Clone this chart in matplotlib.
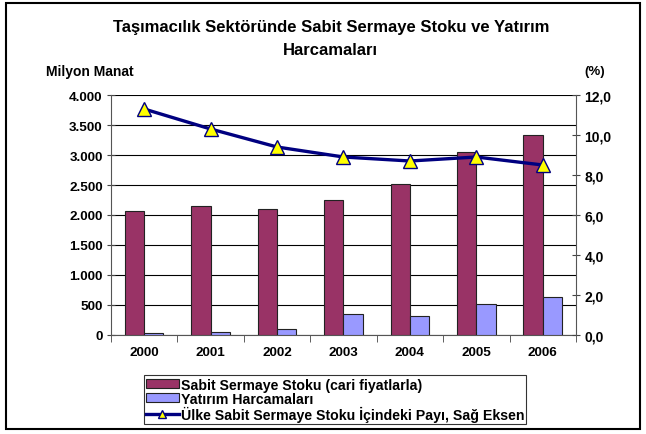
import matplotlib
matplotlib.use("Agg")
import matplotlib.pyplot as plt
import numpy as np
from matplotlib.ticker import FuncFormatter

plt.rcParams['font.family'] = ['Liberation Sans', 'DejaVu Sans']
plt.rcParams['font.weight'] = 'bold'

# data
years = ['2000', '2001', '2002', '2003', '2004', '2005', '2006']
stok = [2065, 2150, 2095, 2255, 2520, 3055, 3340]
yatirim = [35, 50, 95, 345, 315, 520, 625]
pay = [11.3, 10.3, 9.4, 8.9, 8.7, 8.9, 8.5]

fig = plt.figure(figsize=(6.46, 4.35), dpi=100)
ax = fig.add_axes([0.1718, 0.2276, 0.7198, 0.5517])

x = np.arange(len(years))
w = 0.29
ax.bar(x - w / 2, stok, w, color='#993366', edgecolor='#222222', linewidth=0.8,
       label='Sabit Sermaye Stoku (cari fiyatlarla)', zorder=3)
ax.bar(x + w / 2, yatirim, w, color='#9999FF', edgecolor='#222222', linewidth=0.8,
       label='Yatırım Harcamaları', zorder=3)

ax.set_xlim(-0.5, len(years) - 0.5)
ax.set_ylim(0, 4000)
ax.set_yticks(np.arange(0, 4001, 500))
ax.yaxis.set_major_formatter(FuncFormatter(lambda v, p: f'{int(v):,}'.replace(',', '.')))
ax.grid(axis='y', color='black', linewidth=0.8, zorder=0)
ax.set_xticks(x)
ax.set_xticklabels(years)
ax.set_xticks(np.arange(-0.5, len(years), 1), minor=True)
ax.tick_params(axis='x', which='major', length=0, pad=8, labelsize=9.7)
ax.tick_params(axis='x', which='minor', length=5, direction='out', color='#444444')
ax.tick_params(axis='y', length=6, direction='inout', labelsize=9.7, color='#444444', pad=3)
for s in ['top', 'right']:
    ax.spines[s].set_visible(False)
for s in ['left', 'bottom']:
    ax.spines[s].set_color('#555555')
for lab in ax.get_xticklabels() + ax.get_yticklabels():
    lab.set_fontweight('bold')

ax2 = ax.twinx()
ax2.plot(x, pay, color='#000080', linewidth=2.4, marker='^', markersize=10,
         markerfacecolor='#FFFF00', markeredgecolor='#000080', markeredgewidth=1,
         label='Ülke Sabit Sermaye Stoku İçindeki Payı, Sağ Eksen', zorder=5)
ax2.set_ylim(0, 12)
ax2.set_yticks(np.arange(0, 12.1, 2))
ax2.yaxis.set_major_formatter(FuncFormatter(lambda v, p: f'{v:.1f}'.replace('.', ',')))
ax2.tick_params(axis='y', length=6, direction='inout', labelsize=10, color='#444444', pad=3)
for s in ['top', 'left', 'bottom']:
    ax2.spines[s].set_visible(False)
ax2.spines['right'].set_color('#555555')
for lab in ax2.get_yticklabels():
    lab.set_fontweight('bold')

fig.text(0.512, 0.936, 'Taşımacılık Sektöründe Sabit Sermaye Stoku ve Yatırım',
         ha='center', va='center', fontsize=12, fontweight='bold')
fig.text(0.512, 0.885, 'Harcamaları', ha='center', va='center', fontsize=12, fontweight='bold')
fig.text(0.071, 0.834, 'Milyon Manat', ha='left', va='center', fontsize=10, fontweight='bold')
fig.text(0.937, 0.834, '(%)', ha='right', va='center', fontsize=9.5, fontweight='bold')

h1, l1 = ax.get_legend_handles_labels()
h2, l2 = ax2.get_legend_handles_labels()
leg = fig.legend(h1 + h2, l1 + l2, loc='upper left', bbox_to_anchor=(0.212, 0.151),
                 frameon=True, fancybox=False, edgecolor='black', fontsize=10.2,
                 handlelength=2.3, handleheight=0.55, labelspacing=0.0,
                 borderpad=0.15, handletextpad=0.15, markerscale=0.55)
leg.get_frame().set_linewidth(0.8)
for t in leg.get_texts():
    t.set_fontweight('bold')

# outer frame
fig.patches.append(plt.Rectangle((0.009, 0.011), 0.982, 0.98, transform=fig.transFigure,
                                 fill=False, edgecolor='black', linewidth=1.5))

fig.savefig('out.png', dpi=100)
